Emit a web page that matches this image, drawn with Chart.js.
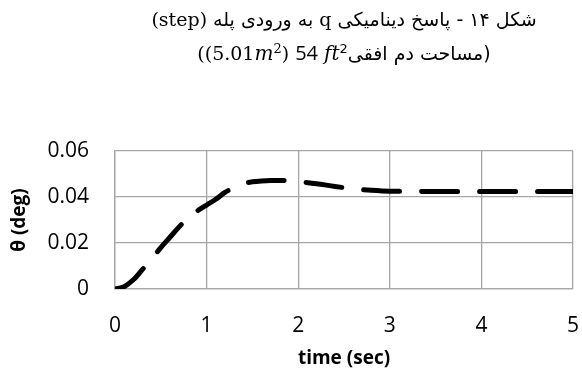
<!DOCTYPE html>
<html>
<head>
<meta charset="utf-8">
<script src="https://cdn.jsdelivr.net/npm/chart.js@4"></script>
<style>
  html, body { margin: 0; padding: 0; background: #fff; }
  #wrap { position: relative; width: 582px; height: 381px; }
  #title {
    position: absolute; left: 95px; width: 498px; top: 3px;
    text-align: center; color: #000; white-space: nowrap;
    font-family: "DejaVu Sans", sans-serif; font-size: 19px; line-height: 33px;
  }
  #title .lat { font-family: "DejaVu Serif", serif; font-size: 19px; }
  #title .num { font-family: "Open Sans", sans-serif; font-size: 20px; }
  #title i { font-family: "DejaVu Serif", serif; font-size: 20px; }
  #title sup { font-size: 13px; line-height: 0; }
</style>
</head>
<body>
<div id="wrap">
  <canvas id="stepChart" width="582" height="381"></canvas>
  <div id="title">
    <div dir="rtl">شکل ۱۴ - پاسخ دینامیکی <span class="lat">q</span> به ورودی پله <span class="lat">(step)</span></div>
    <div dir="rtl">(مساحت دم افقی<bdi dir="ltr"><span class="lat">((5.01<i>m</i><sup>2</sup>)</span> <span class="num">54</span> <i>ft</i><sup>2</sup></bdi></div>
  </div>
</div>
<script>
// time (sec) and pitch angle (deg)
const timeVals = [0, 0.1, 0.2, 0.3, 0.4, 0.5, 0.6, 0.7, 0.8, 0.9, 1.0, 1.1, 1.2, 1.3, 1.4, 1.5, 1.6, 1.7, 1.8, 1.9, 2.0, 2.2, 2.4, 2.6, 2.8, 3.0, 3.5, 4.0, 4.5, 5.0];
const thetaVals = [0, 0.001, 0.004, 0.0085, 0.013, 0.018, 0.0225, 0.027, 0.031, 0.034, 0.0365, 0.039, 0.042, 0.044, 0.0458, 0.0466, 0.047, 0.0472, 0.0472, 0.0471, 0.0467, 0.0458, 0.0446, 0.0436, 0.0429, 0.0425, 0.0424, 0.0424, 0.0424, 0.0424];
const xTicks = [0, 1, 2, 3, 4, 5];
const yTicks = [0, 0.02, 0.04, 0.06];

const gridColor = '#a6a6a6';
const tickFont = { family: 'Open Sans', size: 21 };

const ctx = document.getElementById('stepChart').getContext('2d');
const stepChart = new Chart(ctx, {
    type: 'line',
    data: {
        datasets: [{
            label: 'theta',
            data: timeVals.map((t, i) => ({ x: t, y: thetaVals[i] })),
            borderColor: '#000',
            borderWidth: 5,
            borderDash: [36, 22],
            borderCapStyle: 'round',
            cubicInterpolationMode: 'monotone',
            pointRadius: 0,
            fill: false
        }]
    },
    options: {
        responsive: false,
        animation: false,
        layout: { padding: { top: 151, right: 9, left: 0, bottom: 0 } },
        plugins: {
            legend: { display: false },
            tooltip: { enabled: false }
        },
        scales: {
            x: {
                type: 'linear',
                min: 0,
                max: 5,
                afterBuildTicks: (scale) => { scale.ticks = xTicks.map(v => ({ value: v })); },
                afterFit: (scale) => { scale.height = 92; scale.paddingRight = 0; scale.paddingLeft = 0; },
                ticks: { color: '#000', font: tickFont, padding: 24, maxRotation: 0 },
                grid: { color: gridColor, lineWidth: 1.3, drawTicks: false },
                border: { color: gridColor, width: 1.3 },
                title: {
                    display: true,
                    text: 'time (sec)',
                    color: '#000',
                    font: { family: 'Open Sans', size: 19, weight: 'bold' },
                    padding: { top: 0, bottom: 11 }
                }
            },
            y: {
                min: 0,
                max: 0.06,
                afterBuildTicks: (scale) => { scale.ticks = yTicks.map(v => ({ value: v })); },
                afterFit: (scale) => { scale.width = 115; },
                ticks: { color: '#000', font: tickFont, padding: 26 },
                grid: { color: gridColor, lineWidth: 1.3, drawTicks: false },
                border: { color: gridColor, width: 1.3 },
                title: {
                    display: true,
                    text: 'θ (deg)',
                    color: '#000',
                    font: { family: 'Open Sans', size: 19, weight: 'bold' },
                    padding: { top: 8, bottom: 0 }
                }
            }
        }
    }
});
</script>
</body>
</html>
